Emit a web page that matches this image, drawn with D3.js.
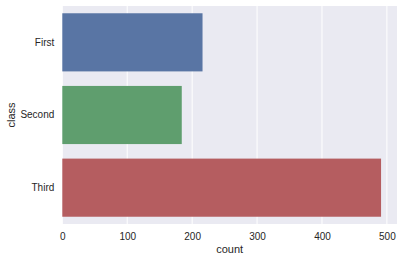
<!DOCTYPE html>
<html><head><meta charset="utf-8">
<script src="https://cdn.jsdelivr.net/npm/d3@7"></script>
<style>body{margin:0;background:#fff}svg{display:block}text{font-family:"Liberation Sans",Arial,sans-serif;fill:#262626}</style>
</head><body>
<svg id="c" width="404" height="261"></svg>
<script>
const categories = ["First", "Second", "Third"];
const counts = [216, 184, 491];
const colors = ["#5975A4", "#5F9E6E", "#B55D60"];
const xTicks = [0, 100, 200, 300, 400, 500];

const svg = d3.select("#c");
const L = 62.3, R = 397, T = 6, B = 224;
const x = d3.scaleLinear().domain([0, d3.max(counts) * 1.05]).range([L, R]);
const y = d3.scaleBand().domain(categories).range([T, B]).paddingInner(0.2).paddingOuter(0.1);

svg.append("rect").attr("x", L).attr("y", T).attr("width", R - L).attr("height", B - T).attr("fill", "#EAEAF2");
svg.append("g").selectAll("line").data(xTicks).join("line")
  .attr("x1", d => x(d)).attr("x2", d => x(d)).attr("y1", T).attr("y2", B)
  .attr("stroke", "#fff").attr("stroke-width", 1);

svg.append("g").selectAll("rect").data(categories).join("rect")
  .attr("x", x(0)).attr("y", d => y(d))
  .attr("width", (d, i) => x(counts[i]) - x(0)).attr("height", y.bandwidth())
  .attr("fill", (d, i) => colors[i]);

const xa = svg.append("g").attr("transform", `translate(0,${B})`)
  .call(d3.axisBottom(x).tickValues(xTicks).tickSize(0).tickPadding(9));
xa.select(".domain").remove();
xa.selectAll("text").attr("font-size", 10).style("fill", "#262626");

const ya = svg.append("g").attr("transform", `translate(${L},0)`)
  .call(d3.axisLeft(y).tickSize(0).tickPadding(8));
ya.select(".domain").remove();
ya.selectAll("text").attr("font-size", 10).style("fill", "#262626");

svg.append("text").attr("x", (L + R) / 2).attr("y", 253).attr("text-anchor", "middle")
  .attr("font-size", 11).text("count");
svg.append("text").attr("transform", `translate(15,${(T + B) / 2}) rotate(-90)`)
  .attr("text-anchor", "middle").attr("font-size", 11).text("class");
</script>
</body></html>
